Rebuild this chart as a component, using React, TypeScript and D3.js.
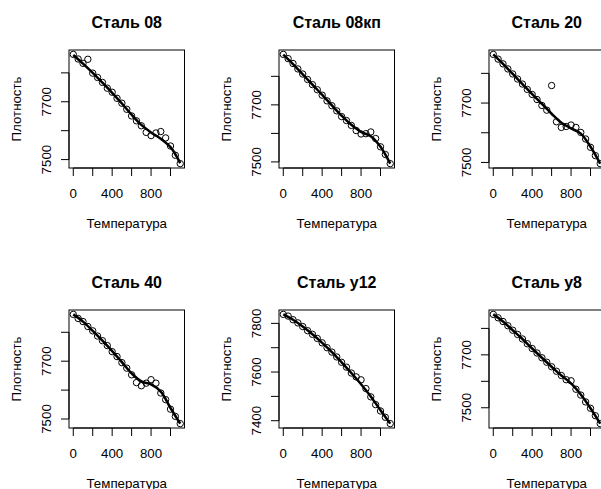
import React from 'react';
import * as d3 from 'd3';

const titles = ['Сталь 08', 'Сталь 08кп', 'Сталь 20', 'Сталь 40', 'Сталь у12', 'Сталь у8'];
const xLabel = 'Температура';
const yLabel = 'Плотность';

const temps = [0, 50, 100, 150, 200, 250, 300, 350, 400, 450, 500, 550, 600, 650, 700, 750, 800, 850, 900, 950, 1000, 1050, 1100];

const rho08 = [7864, 7848, 7833, 7847, 7799, 7784, 7767, 7747, 7733, 7712, 7695, 7674, 7651, 7634, 7617, 7594, 7583, 7592, 7597, 7575, 7547, 7515, 7486];
const rho08kp = [7877, 7862, 7845, 7826, 7808, 7789, 7771, 7753, 7734, 7714, 7697, 7679, 7659, 7645, 7628, 7610, 7598, 7599, 7605, 7582, 7553, 7526, 7494];
const rho20 = [7864, 7848, 7832, 7815, 7798, 7781, 7764, 7746, 7729, 7712, 7692, 7676, 7759, 7637, 7618, 7621, 7626, 7618, 7601, 7579, 7551, 7523, 7496];
const rho40 = [7862, 7848, 7837, 7820, 7805, 7787, 7771, 7754, 7733, 7716, 7695, 7676, 7653, 7626, 7615, 7624, 7636, 7624, 7590, 7567, 7534, 7509, 7484];
const rhoU12 = [7837, 7830, 7815, 7802, 7787, 7770, 7755, 7738, 7720, 7700, 7682, 7662, 7640, 7620, 7596, 7580, 7568, 7532, 7498, 7466, 7440, 7414, 7388];
const rhoU8 = [7853, 7840, 7826, 7810, 7793, 7777, 7760, 7742, 7724, 7707, 7689, 7672, 7655, 7638, 7622, 7606, 7602, 7570, 7548, 7522, 7498, 7470, 7440];

const fitTemps = [0, 100, 200, 300, 400, 500, 600, 700, 800, 900, 1000, 1100];
const fit08 = [7862, 7832, 7800, 7766, 7731, 7694, 7655, 7620, 7594, 7572, 7543, 7488];
const fit08kp = [7876, 7843, 7807, 7771, 7735, 7698, 7662, 7630, 7605, 7590, 7553, 7494];
const fit20 = [7864, 7832, 7798, 7764, 7730, 7697, 7664, 7634, 7615, 7597, 7553, 7496];
const fit40 = [7862, 7837, 7805, 7771, 7735, 7697, 7658, 7630, 7620, 7595, 7538, 7484];
const fitU12 = [7837, 7815, 7787, 7755, 7720, 7682, 7640, 7596, 7550, 7500, 7443, 7388];
const fitU8 = [7853, 7826, 7793, 7760, 7724, 7689, 7655, 7622, 7592, 7550, 7498, 7440];

const xTicks = [0, 200, 400, 600, 800, 1000];
const xTickLabels = [0, 400, 800];
const yTicksA = [7500, 7600, 7700, 7800];
const yTicksB = [7400, 7500, 7600, 7700, 7800];
const yLabelsA = [7500, 7700];
const yLabelsB = [7400, 7600, 7800];

const series = [rho08, rho08kp, rho20, rho40, rhoU12, rhoU8];
const fits = [fit08, fit08kp, fit20, fit40, fitU12, fitU8];
const yTicksAll = [yTicksA, yTicksA, yTicksA, yTicksA, yTicksB, yTicksA];
const yLabelsAll = [yLabelsA, yLabelsA, yLabelsA, yLabelsA, yLabelsB, yLabelsA];

const FONT = '"Liberation Sans", Arial, sans-serif';

function Panel({ idx }: { idx: number }) {
  const col = idx % 3;
  const row = Math.floor(idx / 3);
  const left = 69 + 210 * col;
  const right = 184.5 + 210 * col;
  const top = 50 + 260 * row;
  const bottom = 168 + 260 * row;
  const data = series[idx];
  const fit = fits[idx];
  const xmin = d3.min(temps)!;
  const xmax = d3.max(temps)!;
  const xr = xmax - xmin;
  const x = d3.scaleLinear().domain([xmin - 0.04 * xr, xmax + 0.04 * xr]).range([left, right]);
  const ymin = d3.min(data)!;
  const ymax = d3.max(data)!;
  const yr = ymax - ymin;
  const y = d3.scaleLinear().domain([ymin - 0.04 * yr, ymax + 0.04 * yr]).range([bottom, top]);
  const line = d3
    .line<number>()
    .x((_, i) => x(fitTemps[i]))
    .y((d) => y(d))
    .curve(d3.curveCatmullRom.alpha(0.5));
  const yt = yTicksAll[idx];
  const yl = yLabelsAll[idx];
  const cx = (left + right) / 2;
  const cy = (top + bottom) / 2;
  const tickLen = 8;
  return (
    <g>
      <text x={cx} y={top - 22} textAnchor="middle" fontFamily={FONT} fontWeight="bold" fontSize={16} fill="#000">
        {titles[idx]}
      </text>
      <rect x={left} y={top} width={right - left} height={bottom - top} fill="none" stroke="#000" strokeWidth={1} />
      {/* x axis */}
      <line x1={x(xTicks[0])} x2={x(xTicks[xTicks.length - 1])} y1={bottom} y2={bottom} stroke="#000" />
      {xTicks.map((t) => (
        <line key={'xt' + t} x1={x(t)} x2={x(t)} y1={bottom} y2={bottom + tickLen} stroke="#000" />
      ))}
      {xTickLabels.map((t) => (
        <text key={'xl' + t} x={x(t)} y={bottom + 29.5} textAnchor="middle" fontFamily={FONT} fontSize={13.3} fill="#000">
          {t}
        </text>
      ))}
      {/* y axis */}
      <line x1={left} x2={left} y1={y(yt[0])} y2={y(yt[yt.length - 1])} stroke="#000" />
      {yt.map((t) => (
        <line key={'yt' + t} x1={left - tickLen} x2={left} y1={y(t)} y2={y(t)} stroke="#000" />
      ))}
      {yl.map((t) => (
        <text
          key={'yl' + t}
          transform={`translate(${left - 18.5},${y(t)}) rotate(-90)`}
          textAnchor="middle"
          fontFamily={FONT}
          fontSize={13.3}
          fill="#000"
        >
          {t}
        </text>
      ))}
      <text x={cx} y={bottom + 59.5} textAnchor="middle" fontFamily={FONT} fontSize={13.3} fill="#000">
        {xLabel}
      </text>
      <text
        transform={`translate(${left - 48.5},${cy}) rotate(-90)`}
        textAnchor="middle"
        fontFamily={FONT}
        fontSize={13.3}
        fill="#000"
      >
        {yLabel}
      </text>
      {/* points */}
      {data.map((d, i) => (
        <circle key={'p' + i} cx={x(temps[i])} cy={y(d)} r={3.2} fill="none" stroke="#000" strokeWidth={1} />
      ))}
      <path d={line(fit) || ''} fill="none" stroke="#000" strokeWidth={2.5} />
    </g>
  );
}

export default function App() {
  return (
    <svg
      width={601}
      height={489}
      style={{ position: 'absolute', left: 0, top: 0, background: '#fff' }}
      xmlns="http://www.w3.org/2000/svg"
    >
      <rect x={0} y={0} width={601} height={489} fill="#fff" />
      {titles.map((_, i) => (
        <Panel key={i} idx={i} />
      ))}
    </svg>
  );
}
